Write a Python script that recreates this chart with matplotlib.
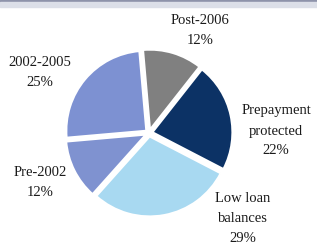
import matplotlib
matplotlib.use("Agg")
import matplotlib.pyplot as plt
from matplotlib.patches import Rectangle

labels = ["Post-2006", "Prepayment\nprotected", "Low loan\nbalances", "Pre-2002", "2002-2005"]
shares = [12, 22, 29, 12, 25]
colors = ["#808080", "#0c3265", "#a8d9f1", "#7f92d0", "#7d91d2"]
# label anchor points (pixels, from top-left of the image)
label_pos = [(200, 31), (276, 131), (243, 218), (40, 182), (40, 72)]

plt.rcParams['font.family'] = ['Liberation Serif', 'DejaVu Serif']

fig = plt.figure(figsize=(3.17, 2.45), dpi=100)
fig.patches.append(Rectangle((0, 243 / 245), 1, 2 / 245, transform=fig.transFigure,
                             color="#8e93aa", zorder=0))
fig.patches.append(Rectangle((0, 238 / 245), 1, 5 / 245, transform=fig.transFigure,
                             color="#dcdfe8", zorder=0))

ax = fig.add_axes([0, 0, 1, 1])

# explode is in data units here (pixels), not a fraction of the radius
ax.pie(shares, colors=colors, startangle=95, counterclock=False,
       center=(149, 245 - 133), radius=80, explode=[3.5] * 5,
       wedgeprops=dict(edgecolor="white", linewidth=1.5), frame=True)
ax.set_xlim(0, 317)
ax.set_ylim(0, 245)
ax.set_aspect("equal")
ax.axis("off")

for lab, s, (x, y) in zip(labels, shares, label_pos):
    ax.text(x, 245 - y, f"{lab}\n{s}%", ha="center", va="center",
            fontsize=10.5, color="#1a1a1a", linespacing=1.7)

fig.savefig("out.png", dpi=100)
